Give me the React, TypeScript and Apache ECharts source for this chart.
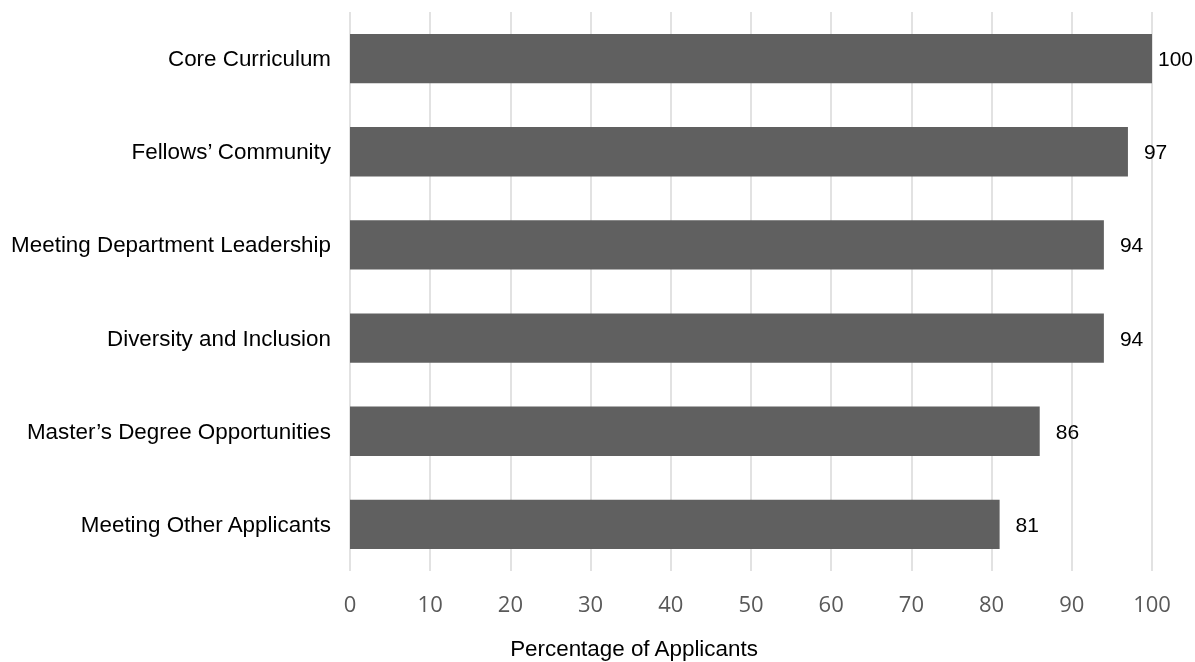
import React, { useEffect, useRef } from "react";
import * as echarts from "echarts";

const categories = [
  "Core Curriculum",
  "Fellows\u2019 Community",
  "Meeting Department Leadership",
  "Diversity and Inclusion",
  "Master\u2019s Degree Opportunities",
  "Meeting Other Applicants",
];
const values = [100, 97, 94, 94, 86, 81];
const xTicks = [0, 10, 20, 30, 40, 50, 60, 70, 80, 90, 100];
const axisTitle = "Percentage of Applicants";

export default function App() {
  const ref = useRef<HTMLDivElement>(null);
  useEffect(() => {
    if (!ref.current) return;
    const chart = echarts.init(ref.current, undefined, { renderer: "svg" });
    chart.setOption({
      animation: false,
      grid: { left: 350, right: 43, top: 12, bottom: 91, containLabel: false },
      xAxis: {
        type: "value",
        min: xTicks[0],
        max: xTicks[xTicks.length - 1],
        interval: 10,
        axisLine: { show: false },
        axisTick: { show: false },
        splitLine: { show: true, lineStyle: { color: "#d9d9d9", width: 1.5 } },
        axisLabel: {
          color: "#595959",
          fontFamily: "Open Sans",
          fontSize: 22,
          margin: 21,
        },
      },
      yAxis: {
        type: "category",
        data: categories,
        inverse: true,
        axisLine: { show: false },
        axisTick: { show: false },
        splitLine: { show: false },
        axisLabel: {
          color: "#000000",
          fontFamily: "Liberation Sans, Arial",
          fontSize: 22.4,
          margin: 19,
        },
      },
      series: [
        {
          type: "bar",
          data: values.map((v) => ({
            value: v,
            label: { distance: v >= 100 ? 6 : 16 },
          })),
          barCategoryGap: "47%",
          itemStyle: { color: "#606060" },
          label: {
            show: true,
            position: "right",
            color: "#000000",
            fontFamily: "Liberation Sans, Arial",
            fontSize: 21,
          },
        },
      ],
      graphic: [
        {
          type: "text",
          x: 634,
          y: 648,
          style: {
            text: axisTitle,
            fill: "#000000",
            fontFamily: "Liberation Sans, Arial",
            fontSize: 22.4,
            textAlign: "center",
            textVerticalAlign: "middle",
          },
        },
      ],
    });
    return () => chart.dispose();
  }, []);
  return (
    <div
      ref={ref}
      style={{ position: "fixed", left: 0, top: 0, width: 1195, height: 662 }}
    />
  );
}
